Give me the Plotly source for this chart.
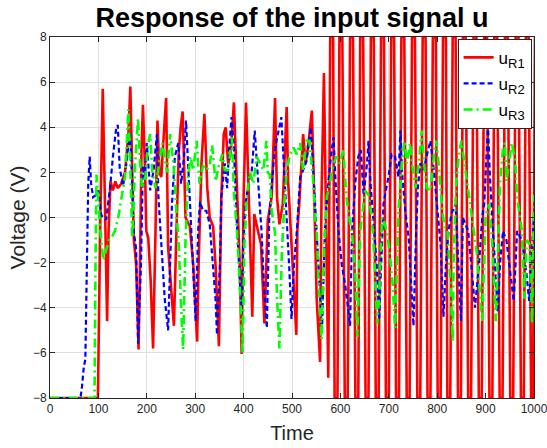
import plotly.graph_objects as go

# ---- data ----
r1_t = [0, 99, 104, 109, 112, 114, 118, 121, 125, 130, 135, 140, 147, 155, 162, 166, 169, 173, 178, 183,
        186, 189, 192, 196, 199, 203, 208, 213, 218, 222, 226, 230, 236, 240, 244, 251, 256, 261, 266, 270,
        274, 277, 280, 289, 296, 304, 307, 313, 319, 325, 330, 337, 342, 349, 354, 359, 363, 368, 373, 380,
        387, 392, 396, 400, 405, 410, 414, 418, 422, 429, 436, 443, 450, 458, 465, 469, 474, 481, 489, 492,
        497, 503, 509, 511, 515, 523, 528, 533, 541, 546, 551, 558, 561, 566, 571, 575,
        579, 585, 588, 594, 598, 604, 609, 615, 620, 626, 631, 637, 641, 647, 652, 658, 663, 669, 673, 679,
        684, 690, 694, 700, 705, 711, 715, 721, 726, 732, 737, 743, 748, 754, 759, 765, 770, 776, 780, 786,
        791, 797, 801, 807, 812, 818, 821, 827, 832, 838, 843, 849, 853, 859, 864, 870, 875, 881, 886, 892,
        897, 903, 908, 914, 918, 924, 929, 935, 940, 946, 951, 957, 962, 968, 973, 979, 983, 989, 994, 998, 1002]
r1_v = [-8, -8, 0, 5.7, 2.4, -0.6, -4.6, -0.6, 1.6, 1.2, 1.6, 1.3, 1.5, 2.0, 3.7, 5.8, 2.4, -0.9, -2.1, -5.85,
        -2.1, 3.0, 5.0, 2.4, -0.6, -0.9, -2.8, -5.8, -0.6, 4.3, 2.0, 1.8, 4.0, 5.3, -1.3, -3.6, -4.8, -0.8, 2.9, 4.0,
        4.7, 2.4, 0.0, -0.4, -2.1, -5.5, -2.1, 2.4, 4.6, 1.3, 0.0, -0.4, -2.1, -5.7, 0.9, 3.7, 4.0, 2.4, 2.8, 5.1,
        0.9, -2.1, -6.05, 0.9, 5.1, 1.6, -1.3, -4.4, 0.15, -0.6, -1.2, -4.7, -0.1, 0.9, 5.3, 0.9, -0.3, 0.6, 4.9, 1.6,
        -0.6, -2.8, -5.2, -0.6, 0.6, 3.7, 2.4, 3.1, 4.74, 0.9, -3.6, -6.4, 0.9, 6.4, -0.6, -7.1,
        8, 8, -8, -8, 8, 8, -8, -8, 8, 8, -8, -8, 8, 8, -8, -8, 8, 8, -8, -8,
        8, 8, -8, -8, 8, 8, -8, -8, 8, 8, -8, -8, 8, 8, -8, -8, 8, 8, -8, -8,
        8, 8, -8, -8, 8, 8, -8, -8, 8, 8, -8, -8, 8, 8, -8, -8, 8, 8, -8, -8,
        8, 8, -8, -8, 8, 8, -8, -8, 8, 8, -8, -8, 8, 8, -8, -8, 8, 8, -8, -8, 8]

r2_t = [0, 63, 66, 70, 73, 76, 79, 82, 85, 89, 95, 100, 106, 116, 124, 130, 137, 140, 144, 151,
        158, 165, 168, 173, 178, 182, 188, 192, 196, 200, 207, 214, 221, 224, 230, 237, 244, 248, 252, 258,
        265, 271, 277, 281, 285, 291, 296, 301, 306, 310, 316, 323, 330, 337, 342, 345, 351, 354, 361, 366,
        370, 375, 380, 385, 390, 396, 399, 404, 410, 417, 423, 427, 432, 437, 442, 448, 453, 459, 463, 468,
        478, 483, 489, 494, 499, 504, 510, 517, 523, 530, 539, 544, 551, 558, 562, 568, 575, 582, 586, 590,
        596, 603, 610, 620, 624, 631, 637, 642, 648, 655, 658, 662, 668, 675, 680, 684, 689, 694, 700, 706,
        713, 720, 724, 727, 734, 741, 748, 751, 756, 760, 765, 772, 779, 786, 793, 800, 807, 813, 818, 824,
        830, 838, 844, 849, 853, 858, 864, 872, 878, 886, 893, 897, 902, 905, 909, 915, 920, 925, 930, 936,
        943, 950, 958, 962, 965, 975, 984, 990, 994, 997, 1000]
r2_v = [-8, -8, -7.5, -6.6, -6.3, -2.0, 1.5, 2.7, 1.5, 0.9, 1.0, 1.2, 0.1, -0.1, 1.3, 2.7, 4.0, 4.1, 2.2, 1.4,
        2.4, 3.85, 2.5, -0.6, -1.4, -5.6, -2.1, 2.3, 1.8, 3.3, 1.2, 2.1, 3.7, 0.9, -1.3, -3.6, -5.0, -2.1, 0.6, 2.7,
        3.3, 1.5, 2.7, 4.3, 2.4, 0.2, -2.1, -4.6, -0.6, 0.7, 0.3, 0.3, -0.3, -2.1, -3.6, -5.2, -2.1, 0.9, 2.4, 1.3,
        3.0, 4.45, 3.1, 0.2, -2.1, -4.3, -1.3, 0.6, 1.5, 2.1, 3.85, 2.7, 0.9, -0.6, -3.0, -4.9, 0.0, 1.6, 2.7, 3.4,
        4.45, 2.4, 0.15, -2.1, -4.5, -2.1, -0.6, 1.8, 2.1, 2.5, 4.0, 2.1, -0.6, -3.6, -5.0, -0.6, 1.6, 3.0, 3.55, 1.6,
        -0.6, -2.1, -3.0, -4.8, -0.6, 1.6, 2.7, 3.0, 1.0, 2.4, 3.4, 1.6, -0.3, -2.1, -4.5, -2.1, 0.6, 1.2, 1.9, 2.8,
        2.7, 1.8, 3.85, 2.1, 0.3, -0.9, -3.6, -4.8, -0.9, 1.3, 2.4, 2.1, 2.8, 3.4, 2.1, 0.3, -1.2, -4.4, -2.1, -0.5,
        0.2, 0.6, -2.0, -4.6, 0.0, -0.3, -0.6, -2.5, -4.0, -2.2, 0.0, 0.6, 3.0, 4.1, 1.8, -0.3, -2.0, -4.2, -2.0, -0.6,
        -1.0, -2.2, -3.7, -2.0, -0.6, -1.0, -2.4, -3.7, -2.0, -0.6, 0.1]

r3_t = [0, 92, 94, 96, 99, 104, 110, 116, 122, 127, 134, 141, 148, 155, 159, 162, 166, 170, 176, 182,
        186, 190, 197, 203, 207, 211, 218, 225, 232, 237, 242, 248, 255, 262, 266, 270, 275, 280, 285, 290,
        296, 303, 309, 316, 323, 330, 335, 342, 349, 356, 361, 368, 376, 380, 386, 390, 394, 398, 402, 407,
        413, 420, 427, 434, 441, 447, 450, 454, 458, 465, 469, 474, 479, 484, 489, 496, 503, 510, 517, 523,
        530, 536, 541, 544, 548, 551, 554, 558, 561, 565, 572, 579, 586, 592, 599, 606, 612, 617, 624, 631,
        635, 641, 651, 658, 665, 670, 676, 680, 686, 689, 696, 703, 708, 713, 717, 720, 727, 732, 737, 744,
        748, 755, 762, 768, 774, 779, 786, 793, 798, 803, 810, 815, 821, 828, 832, 834, 839, 845, 850, 860,
        871, 882, 893, 900, 907, 914, 921, 926, 930, 936, 940, 943, 954, 961, 965, 975, 980, 985, 991, 996, 1000]
r3_v = [-8, -8, -2.0, 1.9, 0.9, -0.6, -1.9, -1.4, -1.0, -0.9, -0.6, 0.0, 0.9, 1.8, 3.5, 4.8, 2.1, -0.9, 2.4, 4.4,
        2.5, 1.3, 1.8, 3.3, 3.7, 2.1, 1.3, 2.4, 3.3, 2.6, 2.0, 3.7, 2.4, 0.0, -1.2, -3.5, -5.85, -1.0, 1.7, 2.7,
        2.1, 3.4, 1.5, 2.3, 2.1, 2.3, 3.2, 1.6, 2.3, 2.8, 2.1, 2.1, 3.55, 1.1, -0.5, -2.0, -4.0, -6.0, -1.0, 1.0,
        2.0, 1.5, 2.7, 2.4, 2.1, 3.4, 2.0, 1.9, 0.3, -0.7, -3.5, -5.8, -1.6, 0.6, 2.1, 2.8, 3.1, 2.8, 3.3, 2.1,
        3.4, 3.4, 2.1, 1.6, 0.0, -0.6, -2.3, -4.1, -5.4, -2.1, 0.9, 1.6, 2.4, 2.7, 2.4, 3.0, 1.0, 0.15, -0.7, -2.6,
        -5.3, -0.6, 1.2, 1.0, 0.0, -1.8, -4.7, -3.6, 0.0, -0.1, -0.6, -1.8, -3.0, -4.9, -1.6, 0.3, 2.4, 3.4, 2.4, 3.3,
        2.4, 1.3, 2.4, 3.85, 2.1, 1.3, 1.2, 2.7, 3.4, 2.4, 0.4, -0.4, -0.5, -3.1, -5.5, -1.9, 1.5, 2.8, 3.4, 1.8,
        0.2, -1.6, -4.6, 0.0, 0.6, -1.3, -4.6, -0.6, 1.6, 3.1, 3.3, 1.6, 3.3, 2.6, 0.9, -0.6, -3.6, -1.0, -1.2, -4.7, 1.0]

names = ["u<sub><span style='font-size:13px'>R1</span></sub>",
         "u<sub><span style='font-size:13px'>R2</span></sub>",
         "u<sub><span style='font-size:13px'>R3</span></sub>"]
x_ticks = list(range(0, 1001, 100))
y_ticks = list(range(-8, 9, 2))

FONT = "Liberation Sans, Arial, sans-serif"
INK = "#262626"
W, H = 547, 448

fig = go.Figure()
fig.add_trace(go.Scatter(x=r1_t, y=r1_v, mode="lines", name=names[0], legendgroup="a",
                         line=dict(color="#FF0000", width=2.6)))
fig.add_trace(go.Scatter(x=r2_t, y=r2_v, mode="lines", name=names[1], legendgroup="b",
                         line=dict(color="#0000FF", width=2.2, dash="5px,3px")))
fig.add_trace(go.Scatter(x=r3_t, y=r3_v, mode="lines", name=names[2], legendgroup="c",
                         line=dict(color="#00FF00", width=2.6, dash="9px,4px,2px,4px")))

axis_common = dict(showline=True, linecolor=INK, linewidth=1, mirror="ticks",
                   ticks="inside", ticklen=5, tickcolor=INK, showgrid=True,
                   gridcolor="#e0e0e0", gridwidth=1, zeroline=False, automargin=False,
                   ticklabeloverflow="allow",
                   tickfont=dict(family=FONT, size=12, color=INK))

fig.update_layout(
    width=W, height=H,
    margin=dict(l=50, r=13, t=37, b=50),
    paper_bgcolor="white", plot_bgcolor="white",
    title=dict(text="<b>Response of the input signal u</b>", x=0.5, xref="paper", xanchor="center",
               y=1 - 17.5 / H, yref="container", yanchor="middle", automargin=False,
               font=dict(family=FONT, size=27, color="black")),
    xaxis=dict(range=[0, 1000], tickvals=x_ticks, **axis_common,
               title=dict(text="Time", font=dict(family=FONT, size=20, color=INK), standoff=10)),
    yaxis=dict(range=[-8, 8], tickvals=y_ticks, **axis_common,
               title=dict(text="Voltage (V)", font=dict(family=FONT, size=21, color=INK), standoff=1)),
    legend=dict(x=0.995, y=0.995, xanchor="right", yanchor="top", bgcolor="white",
                bordercolor=INK, borderwidth=1, tracegroupgap=1,
                font=dict(family=FONT, size=17, color="black")),
    showlegend=True,
)

fig.write_html("out.html", config={"displayModeBar": False},
               post_script="document.body.style.margin='0px';")
